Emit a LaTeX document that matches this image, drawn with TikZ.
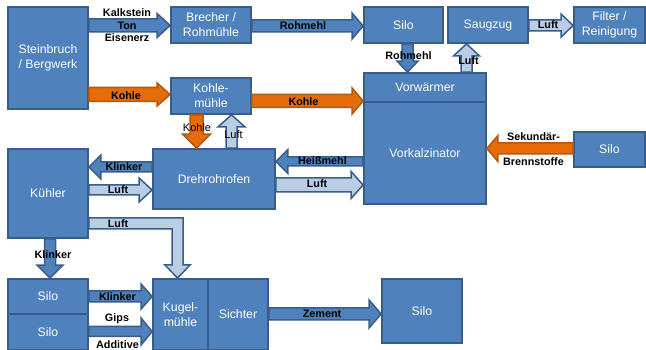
\documentclass[tikz,border=0pt]{standalone}
\usepackage{fontspec}
\setmainfont{Liberation Sans}
\usetikzlibrary{calc}
\definecolor{boxblue}{HTML}{4F81BD}
\definecolor{boxline}{HTML}{385D8A}
\definecolor{lightblue}{HTML}{B9CDE5}
\definecolor{orangefill}{HTML}{E46C0A}
\definecolor{orangeline}{HTML}{B65708}
% horizontal block arrow: style, from, to, y centre, shaft half, head half, head length
\newcommand\HA[7][]{%
  \path[#1] let \p1=(#2), \p2=(#3), \n1={sign(\x2-\x1)}, \n2={\x2-\n1*#7} in
  (\x1,#4+#5) -- (\n2,#4+#5) -- (\n2,#4+#6) -- (\x2,#4) -- (\n2,#4-#6) -- (\n2,#4-#5) -- (\x1,#4-#5) -- cycle;}
% vertical block arrow: style, from, to, x centre, shaft half, head half, head length
\newcommand\VA[7][]{%
  \path[#1] let \p1=(#2), \p2=(#3), \n1={sign(\y2-\y1)}, \n2={\y2-\n1*#7} in
  (#4+#5,\y1) -- (#4+#5,\n2) -- (#4+#6,\n2) -- (#4,\y2) -- (#4-#6,\n2) -- (#4-#5,\n2) -- (#4-#5,\y1) -- cycle;}
\tikzset{
  box/.style={draw=boxline, fill=boxblue, line width=1.8pt, text=white, inner sep=0pt,
    align=center, font=\fontsize{12.3}{15}\selectfont},
  darr/.style={draw=boxline, fill=boxblue, line width=1.5pt, line join=miter},
  larr/.style={draw=boxline, fill=lightblue, line width=1.5pt, line join=miter},
  oarr/.style={draw=orangeline, fill=orangefill, line width=1.5pt, line join=miter},
  lab/.style={inner sep=0.5pt, align=center, font=\bfseries\fontsize{10.8}{12.5}\selectfont},
  labr/.style={inner sep=0.5pt, align=center, font=\fontsize{11}{12.5}\selectfont},
  labw/.style={lab, fill=white, inner sep=1pt}
}
\begin{document}
\begin{tikzpicture}[x=1pt,y=1pt]
\useasboundingbox (0,0) rectangle (646,350);
% boxes
\node[box, minimum width=80pt, minimum height=102pt] (stein) at (48,292) {Steinbruch\\/ Bergwerk};
\node[box, minimum width=80pt, minimum height=36pt] (brech) at (211,325) {Brecher /\\Rohmühle};
\node[box, minimum width=79pt, minimum height=36pt] (silo1) at (403.5,325) {Silo};
\node[box, minimum width=80pt, minimum height=36pt] (saug) at (488,325) {Saugzug};
\node[box, minimum width=71pt, minimum height=36pt] (filter) at (609.5,325) {Filter /\\Reinigung};
\node[box, minimum width=80pt, minimum height=36pt] (kohlem) at (211,254) {Kohle-\\mühle};
\node[box, minimum width=122pt, minimum height=29pt] (vorw) at (425,262.5) {Vorwärmer};
\node[box, minimum width=122pt, minimum height=102pt] (vorkal) at (425,197) {Vorkalzinator};
\node[box, minimum width=71pt, minimum height=35pt] (silo2) at (609.5,200.5) {Silo};
\node[box, minimum width=80pt, minimum height=89pt] (kuehler) at (48,156.5) {Kühler};
\node[box, minimum width=122pt, minimum height=60pt] (dreh) at (214,171) {Drehrohrofen};
\node[box, minimum width=80pt, minimum height=35pt] (siloK) at (48,53.5) {Silo};
\node[box, minimum width=80pt, minimum height=36pt] (siloG) at (48,18) {Silo};
\node[box, minimum width=55pt, minimum height=71pt] (kugel) at (180.5,35.5) {Kugel-\\mühle};
\node[box, minimum width=60pt, minimum height=71pt] (sichter) at (238,35.5) {Sichter};
\node[box, minimum width=80pt, minimum height=64pt] (silo3) at (422,39) {Silo};
% arrows
\HA[darr]{stein.east}{brech.west}{324.5}{6.5}{12}{13}
\HA[darr]{brech.east}{silo1.west}{324}{6}{13}{11}
\HA[larr]{saug.east}{filter.west}{324.5}{5.5}{11.5}{12}
\VA[darr]{silo1.south}{vorw.north}{407.5}{5.5}{10.5}{11}
\VA[larr]{vorw.north}{saug.south}{466.5}{5.5}{13}{12}
\HA[oarr]{stein.east}{kohlem.west}{255.5}{7}{11.5}{13}
\HA[oarr]{kohlem.east}{vorw.west}{249}{6.5}{13}{11}
\VA[oarr]{kohlem.south}{dreh.north}{196.5}{6.5}{14}{14}
\VA[larr]{dreh.north}{kohlem.south}{231.5}{5.5}{13.5}{12}
\HA[darr]{vorkal.west}{dreh.east}{188.5}{4.5}{12}{12}
\HA[larr]{dreh.east}{vorkal.west}{165}{7}{13.5}{12}
\HA[oarr]{silo2.west}{vorkal.east}{201.5}{5.5}{13}{11}
\HA[darr]{dreh.west}{kuehler.east}{183}{5}{12}{12}
\HA[larr]{kuehler.east}{dreh.west}{160}{5}{12}{13}
\VA[darr]{kuehler.south}{siloK.north}{50}{5.5}{13}{13}
\HA[darr]{siloK.east}{kugel.west}{53.5}{5.5}{12.5}{11}
\HA[darr]{siloG.east}{kugel.west}{18.5}{5}{13.5}{11}
\HA[darr]{sichter.east}{silo3.west}{36}{6}{14}{12}
% elbow arrow Kühler -> Kugelmühle
\path[larr] let \p1=(kuehler.east), \p2=(kugel.north) in
  (\x1,132) -- (183,132) -- (183,85) -- (190,85) -- (177.5,\y2) -- (165,85) -- (172,85) -- (172,121) -- (\x1,121) -- cycle;
% labels
\node[lab] (lkalk) at (127,324.5) {Kalkstein\\Ton\\Eisenerz};
\node[lab] (lroh1) at (303,324) {Rohmehl};
\node[lab] (lluft1) at (548,325) {Luft};
\node[lab] (lroh2) at (408.5,294) {Rohmehl};
\node[lab] (lluft2) at (468.5,289) {Luft};
\node[lab] (lkohle1) at (126,254) {Kohle};
\node[lab] (lkohle2) at (303.5,248) {Kohle};
\node[labr] (lkohle3) at (197,222) {Kohle};
\node[labr] (lluft3) at (233.5,215) {Luft};
\node[lab] (lheiss) at (322.5,189) {Heißmehl};
\node[lab] (lluft4) at (317,166) {Luft};
\node[lab] (lsek1) at (533.5,213) {Sekundär-};
\node[lab] (lsek2) at (533.5,188) {Brennstoffe};
\node[lab] (lklink1) at (124,183) {Klinker};
\node[lab] (lluft5) at (118,160) {Luft};
\node[lab] (lluft6) at (118,126) {Luft};
\node[lab] (lklink2) at (53,95) {Klinker};
\node[lab] (lklink3) at (117.5,53) {Klinker};
\node[labw] (lgips) at (117,31) {Gips};
\node[labw] (ladd) at (117.5,5) {Additive};
\node[lab] (lzem) at (322,36) {Zement};
\end{tikzpicture}
\end{document}
